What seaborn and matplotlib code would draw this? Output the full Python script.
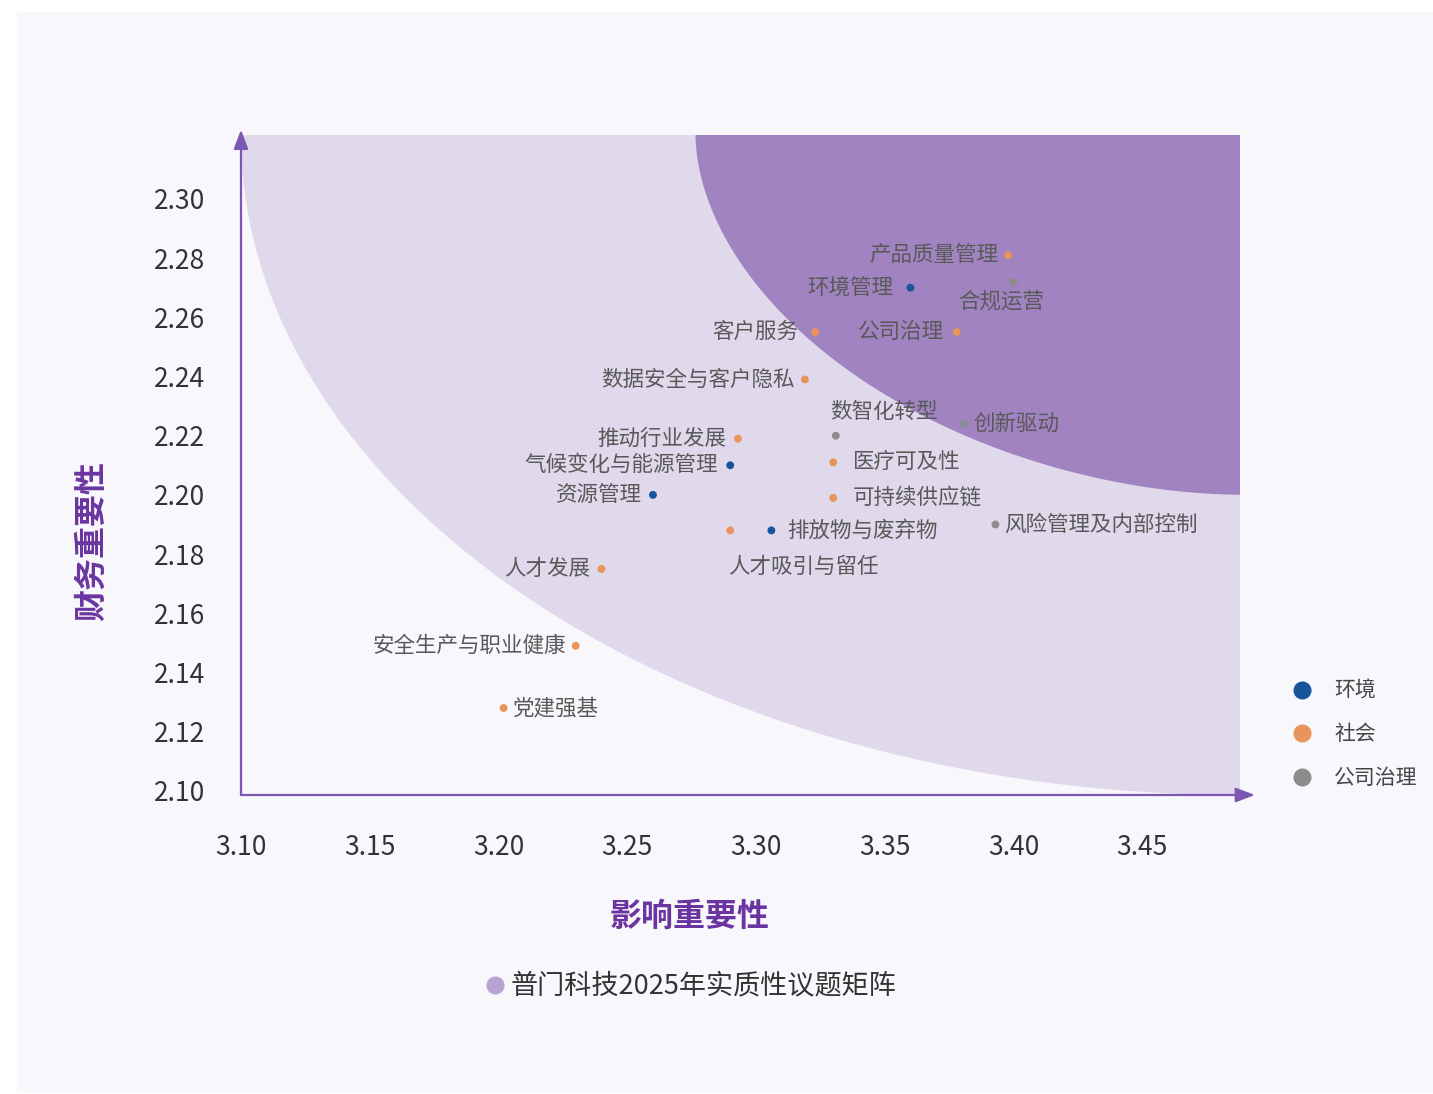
import numpy as np
import pandas as pd
import matplotlib
matplotlib.use('Agg')
import matplotlib.pyplot as plt
from matplotlib.lines import Line2D
from matplotlib.patches import Rectangle
import seaborn as sns

# chart data
topics = ['产品质量管理', '合规运营', '环境管理', '客户服务', '公司治理',
          '数据安全与客户隐私', '数智化转型', '创新驱动', '推动行业发展',
          '气候变化与能源管理', '医疗可及性', '资源管理', '可持续供应链',
          '排放物与废弃物', '人才吸引与留任', '风险管理及内部控制', '人才发展',
          '安全生产与职业健康', '党建强基']
impact = [3.398, 3.400, 3.360, 3.323, 3.378, 3.319, 3.331, 3.381, 3.293,
          3.290, 3.330, 3.260, 3.330, 3.306, 3.290, 3.393, 3.240, 3.230, 3.202]
financial = [2.281, 2.272, 2.270, 2.255, 2.255, 2.239, 2.220, 2.224, 2.219,
             2.210, 2.211, 2.200, 2.199, 2.188, 2.188, 2.190, 2.175, 2.149, 2.128]
groups = ['社会', '公司治理', '环境', '社会', '社会', '社会', '公司治理', '公司治理',
          '社会', '环境', '社会', '环境', '社会', '环境', '社会', '公司治理',
          '社会', '社会', '社会']

group_names = ['环境', '社会', '公司治理']
group_colors = ['#17549B', '#E8945A', '#8C8C8C']

x_ticks = [3.10, 3.15, 3.20, 3.25, 3.30, 3.35, 3.40, 3.45]
y_ticks = [2.10, 2.12, 2.14, 2.16, 2.18, 2.20, 2.22, 2.24, 2.26, 2.28, 2.30]
x_range = (3.10, 3.488)
y_range = (2.0986, 2.3216)

chart_title = '普门科技2025年实质性议题矩阵'

# label placement: (dx px, dy px, alignment) relative to the point
label_pos = {
    '产品质量管理': (-10, 0, 'right'),
    '合规运营': (-12, -20, 'center'),
    '环境管理': (-17, 0, 'right'),
    '客户服务': (-17, 0, 'right'),
    '公司治理': (-13, 0, 'right'),
    '数据安全与客户隐私': (-10, 0, 'right'),
    '数智化转型': (48, 24, 'center'),
    '创新驱动': (9, 0, 'left'),
    '推动行业发展': (-12, 0, 'right'),
    '气候变化与能源管理': (-12, 0, 'right'),
    '医疗可及性': (20, 0, 'left'),
    '资源管理': (-11, 0, 'right'),
    '可持续供应链': (20, 0, 'left'),
    '排放物与废弃物': (16, 0, 'left'),
    '人才吸引与留任': (73, -37, 'center'),
    '风险管理及内部控制': (9, 0, 'left'),
    '人才发展': (-11, 0, 'right'),
    '安全生产与职业健康': (-10, 0, 'right'),
    '党建强基': (9, 0, 'left'),
}

sns.set_theme(style='white')
plt.rcParams['font.family'] = ['Noto Sans CJK SC', 'DejaVu Sans']
plt.rcParams['axes.unicode_minus'] = False

df = pd.DataFrame({'topic': topics, 'impact': impact,
                   'financial': financial, 'group': groups})

W, H = 1433, 1094
fig = plt.figure(figsize=(W / 100, H / 100), dpi=100)
fig.patch.set_facecolor('white')
panel = '#F8F7FC'
fig.add_artist(Rectangle((17 / W, 1 - 1093 / H), (W - 17) / W, (1093 - 12) / H,
                         transform=fig.transFigure, facecolor=panel,
                         edgecolor='none', zorder=-5))

ax = fig.add_axes([241 / W, 1 - 795 / H, 999 / W, 660 / H])
ax.set_facecolor('none')


def corner_shape(frac, power):
    # rounded region hanging from the top-right corner of the plot
    t = np.linspace(0, np.pi / 2, 300)
    a = frac * (x_range[1] - x_range[0])
    b = frac * (y_range[1] - y_range[0])
    xs = x_range[1] - a * np.cos(t) ** (2 / power)
    ys = y_range[1] - b * np.sin(t) ** (2 / power)
    return np.r_[xs, x_range[1]], np.r_[ys, y_range[1]]


ox, oy = corner_shape(1.0, 2.0)
ax.fill(ox, oy, color='#E0D9EC', lw=0, zorder=0)
ix, iy = corner_shape(0.545, 1.85)
ax.fill(ix, iy, color='#A083C0', lw=0, zorder=1)

sns.scatterplot(data=df, x='impact', y='financial', hue='group',
                hue_order=group_names, palette=group_colors, s=32,
                edgecolor='none', legend=False, ax=ax, zorder=3)

for _, row in df.iterrows():
    dx, dy, ha = label_pos[row['topic']]
    ax.annotate(row['topic'], (row['impact'], row['financial']),
                xytext=(dx * 0.72, dy * 0.72), textcoords='offset points',
                ha=ha, va='center', fontsize=15.5, color='#595959', zorder=4)

ax.set_xlim(x_range)
ax.set_ylim(y_range)
ax.set_xticks(x_ticks)
ax.set_xticklabels([f'{v:.2f}' for v in x_ticks], fontweight='medium')
ax.set_yticks(y_ticks)
ax.set_yticklabels([f'{v:.2f}' for v in y_ticks], fontweight='medium')
ax.tick_params(length=0, labelsize=19, labelcolor='#333333')
ax.tick_params(axis='x', pad=28)
ax.tick_params(axis='y', pad=26)
ax.set_xlabel('')
ax.set_ylabel('')
for sp in ax.spines.values():
    sp.set_visible(False)

axis_color = '#7D55B3'
arrow = dict(arrowstyle='-|>,head_length=0.58,head_width=0.22', color=axis_color,
             lw=1.6, shrinkA=0, shrinkB=0, mutation_scale=20)
ax.annotate('', xy=(1.015, 0), xytext=(0, 0), xycoords='axes fraction',
            arrowprops=arrow)
ax.annotate('', xy=(0, 1.008), xytext=(0, 0), xycoords='axes fraction',
            arrowprops=arrow)

title_color = '#6A35A0'
fig.text(690 / W, 1 - 917 / H, '影响重要性', ha='center', va='center',
         fontsize=23, fontweight='bold', color=title_color)
fig.text(92 / W, 1 - 541 / H, '财务重要性', ha='center', va='center',
         rotation=90, fontsize=23, fontweight='bold', color=title_color)

# bottom series caption
fig.add_artist(Line2D([495 / W], [1 - 985 / H], transform=fig.transFigure,
                      marker='o', markersize=13, color='#B9A3D3',
                      markeredgewidth=0, linestyle=''))
fig.text(511 / W, 1 - 986 / H, chart_title, ha='left', va='center',
         fontsize=19.5, color='#333333')

handles = [Line2D([], [], marker='o', linestyle='', markersize=13, color=c,
                  markeredgewidth=0) for c in group_colors]
leg = fig.legend(handles, group_names, loc='upper left',
                 bbox_to_anchor=(1291.6 / W, 1 - 680 / H), frameon=False,
                 fontsize=15, handlelength=1.0, handletextpad=1.04,
                 labelspacing=1.03, borderpad=0, borderaxespad=0)
for t in leg.get_texts():
    t.set_color('#444444')

fig.savefig('out.png', dpi=100, facecolor=fig.get_facecolor())
